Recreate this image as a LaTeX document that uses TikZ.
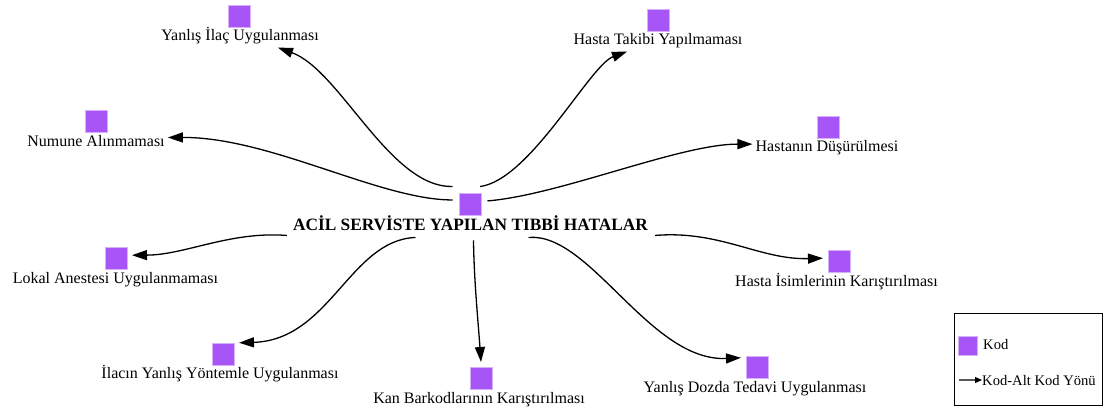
\documentclass[tikz,border=0pt]{standalone}
\usepackage{fontspec}
\setmainfont{Liberation Serif}
\usetikzlibrary{arrows.meta}
\definecolor{kodfill}{RGB}{168,85,247}
\definecolor{kodedge}{RGB}{214,176,252}
\begin{document}
\begin{tikzpicture}[x=1pt,y=-1pt,
  kod/.style={rectangle,fill=kodfill,draw=kodedge,line width=0.8pt,minimum size=22pt,inner sep=0pt,outer sep=5pt},
  lbl/.style={anchor=base,inner sep=3pt,font=\fontsize{16}{18}\selectfont},
  link/.style={line width=1.3pt,-{Triangle[length=15pt,width=10pt]}},
  legtext/.style={anchor=base west,inner sep=0pt,font=\fontsize{14.6}{16}\selectfont},
]
\useasboundingbox (0,0) rectangle (1107,417);

% central code
\node[kod,outer sep=6.5pt] (s0) at (470,204) {};
\node[anchor=base,inner xsep=3pt,inner ysep=5pt,font=\bfseries\fontsize{17.3}{20}\selectfont] (t0) at (470.5,230) {ACİL SERVİSTE YAPILAN TIBBİ HATALAR};

% sub-codes: square plus caption
\node[kod] (s1) at (239,16) {};
\node[lbl] (l1) at (240,41) {Yanlış İlaç Uygulanması};
\node[kod] (s2) at (96,121) {};
\node[lbl] (l2) at (96,146) {Numune Alınmaması};
\node[kod] (s3) at (658,20) {};
\node[lbl] (l3) at (658,45) {Hasta Takibi Yapılmaması};
\node[kod] (s4) at (828,127) {};
\node[lbl] (l4) at (827,151) {Hastanın Düşürülmesi};
\node[kod] (s5) at (116,258) {};
\node[lbl] (l5) at (115.5,283) {Lokal Anestesi Uygulanmaması};
\node[kod] (s6) at (223,354) {};
\node[lbl] (l6) at (220,378) {İlacın Yanlış Yöntemle Uygulanması};
\node[kod] (s7) at (481,378) {};
\node[lbl] (l7) at (479,403) {Kan Barkodlarının Karıştırılması};
\node[kod] (s8) at (757,367) {};
\node[lbl] (l8) at (755,392) {Yanlış Dozda Tedavi Uygulanması};
\node[kod] (s9) at (839,261) {};
\node[lbl] (l9) at (836.5,286) {Hasta İsimlerinin Karıştırılması};

% code -> sub-code links
\draw[link] (s0.north west) .. controls (390,188) and (340,70) .. ([xshift=38pt]l1.south);
\draw[link] (s0.167) .. controls (380,200) and (270,137) .. ([yshift=3pt]l2.east);
\draw[link] (s0.60) .. controls (530,180) and (590,65) .. ([xshift=-31pt]l3.south);
\draw[link] (s0.10) .. controls (560,195) and (680,144) .. ([yshift=3pt]l4.west);
\draw[link] ([xshift=-3pt]t0.south west) .. controls (230,231) and (185,255) .. (s5.10);
\draw[link] ([xshift=-55pt,yshift=-2pt]t0.south) .. controls (350,240) and (330,340) .. (s6.35);
\draw[link] ([xshift=3pt,yshift=-5pt]t0.south) .. controls (474,280) and (478,320) .. (s7.north);
\draw[link] ([xshift=58pt,yshift=-2pt]t0.south) .. controls (590,232) and (650,362) .. (s8.150);
\draw[link] ([xshift=4pt]t0.south east) .. controls (720,230) and (760,260) .. (s9.170);

% legend
\node[draw,line width=1pt,minimum width=148pt,minimum height=92pt,inner sep=0pt] (legend) at (1028,359) {};
\node[kod,minimum size=19pt,outer sep=0pt] (lk) at (968,346) {};
\node[legtext] (lkt) at (983,349.5) {Kod};
\node[legtext] (lat) at (982,385) {Kod-Alt Kod Yönü};
\coordinate (la) at (959,380);
\draw[line width=1.3pt,-{Triangle[length=7pt,width=6pt]}] (la) -- (lat.west);
\end{tikzpicture}
\end{document}
